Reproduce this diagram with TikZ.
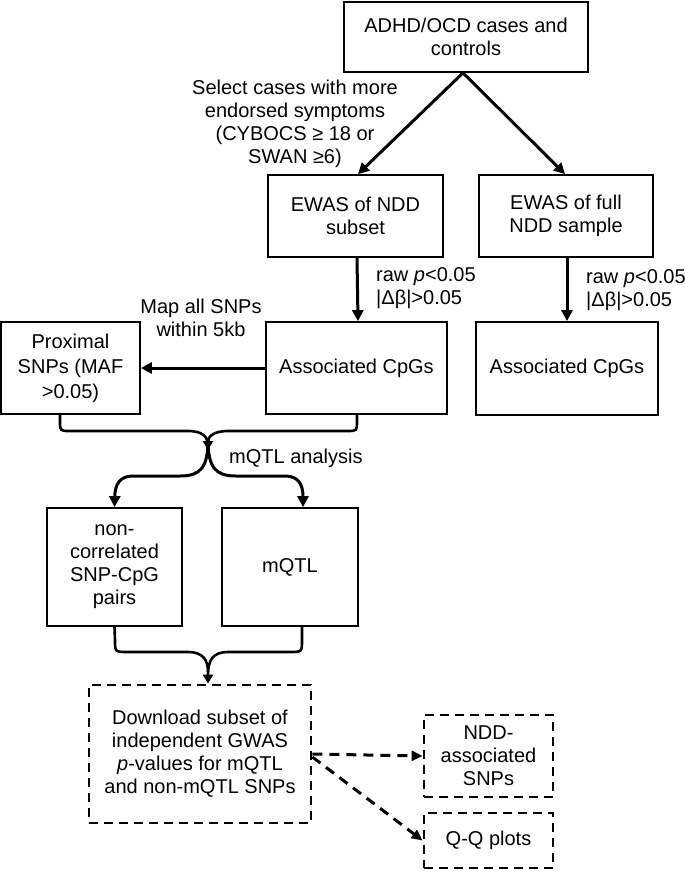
\documentclass[tikz,border=0pt]{standalone}
\usepackage{fontspec}
\setmainfont{Liberation Sans}
\usetikzlibrary{arrows.meta}
\begin{document}
\begin{tikzpicture}[x=1pt,y=-1pt]
\tikzset{
 txt/.style={font=\fontsize{20}{23}\selectfont, align=center, inner sep=0pt},
 box/.style={txt, draw, line width=1.8pt},
 dbox/.style={txt, draw, line width=2.8pt, dash pattern=on 9pt off 6pt},
 arr/.style={line width=3pt, -{Triangle[length=11pt,width=11pt]}},
 darr/.style={line width=3pt, dash pattern=on 10pt off 7pt, -{Triangle[length=11pt,width=10pt]}},
 brace/.style={line width=2.6pt},
}
\useasboundingbox (0,0) rectangle (685,871);
% boxes
\node[box, minimum width=244pt, minimum height=70pt] (top) at (466,37) {ADHD/OCD cases and\\controls};
\node[box, minimum width=175pt, minimum height=82pt] (ewas1) at (355.5,216) {EWAS of NDD\\subset};
\node[box, minimum width=174pt, minimum height=82pt] (ewas2) at (566,216) {EWAS of full\\NDD sample};
\node[box, minimum width=181pt, minimum height=92pt] (assoc1) at (356.5,368) {Associated CpGs};
\node[box, minimum width=182pt, minimum height=93pt] (assoc2) at (567,368.5) {Associated CpGs};
\node[box, minimum width=139pt, minimum height=92pt, font=\fontsize{20}{25}\selectfont] (prox) at (70.5,368) {Proximal\\SNPs (MAF\\>0.05)};
\node[box, minimum width=135pt, minimum height=118pt] (noncorr) at (114.5,567) {non-\\correlated\\SNP-CpG\\pairs};
\node[box, minimum width=136pt, minimum height=118pt] (mqtl) at (290,567) {mQTL};
\node[dbox, minimum width=222pt, minimum height=138pt] (dl) at (200,754) {Download subset of\\independent GWAS\\\textit{p}-values for mQTL\\and non-mQTL SNPs};
\node[dbox, minimum width=129pt, minimum height=82pt] (ndd) at (488.5,756) {NDD-\\associated\\SNPs};
\node[dbox, minimum width=129pt, minimum height=55pt] (qq) at (488.5,840.5) {Q-Q plots};
% labels
\node[txt] (sel) at (295,124) {Select cases with more\\endorsed symptoms\\(CYBOCS ≥ 18 or\\SWAN ≥6)};
\node[txt, align=left, anchor=west] (raw1) at (376,288) {raw \textit{p}<0.05\\|Δβ|>0.05};
\node[txt, align=left, anchor=west] (raw2) at (586,290) {raw \textit{p}<0.05\\|Δβ|>0.05};
\node[txt] (map) at (201,318) {Map all SNPs\\within 5kb};
\node[txt, anchor=west] (mqtllbl) at (229,458) {mQTL analysis};
% arrows
\draw[arr] ([xshift=-3pt]top.south) -- ([xshift=2.5pt]ewas1.north);
\draw[arr] ([xshift=-3pt]top.south) -- ([xshift=-1pt]ewas2.north);
\draw[arr] ([xshift=1.5pt]ewas1.south) -- ([xshift=1.5pt]assoc1.north);
\draw[arr] ([xshift=1pt]ewas2.south) -- (assoc2.north);
\draw[arr] (assoc1.west) -- (prox.east);
% top brace
\coordinate (j1) at (208,450);
\draw[brace] ([xshift=-10.5pt]prox.south) -- (60,421) .. controls (60,431) .. (70,431) -- (188,431) .. controls (203,431) and (208,437) .. (208,446);
\draw[brace, -{Triangle[length=9pt,width=10pt]}] ([xshift=0.5pt]assoc1.south) -- (357,421) .. controls (357,431) .. (347,431) -- (228,431) .. controls (213,431) and (208,437) .. (j1);
% lower split
\draw[arr] (208,440) .. controls (208,468) and (200,476) .. (180,476) -- (133,476) .. controls (120,476) and (115,484) .. (noncorr.north);
\draw[arr] (208,440) .. controls (208,468) and (216,476) .. (236,476) -- (285,476) .. controls (298,476) and (303,484) .. ([xshift=13pt]mqtl.north);
% merge brace
\draw[brace] (noncorr.south) -- (115,640) .. controls (115,652) .. (128,652) -- (188,652) .. controls (203,652) and (208,660) .. (208,672);
\draw[brace, -{Triangle[length=9pt,width=10pt]}] ([xshift=12pt]mqtl.south) -- (302,640) .. controls (302,652) .. (289,652) -- (228,652) .. controls (213,652) and (208,660) .. ([xshift=8pt]dl.north);
% dashed arrows
\draw[darr] (dl.east) -- (ndd.west);
\draw[darr] ([yshift=-3pt]dl.east) -- (qq.west);
\end{tikzpicture}
\end{document}
